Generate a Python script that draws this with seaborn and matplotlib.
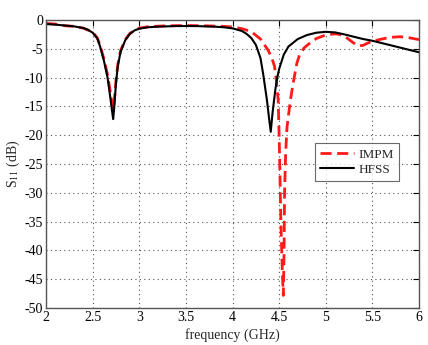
import matplotlib
matplotlib.use("Agg")
import matplotlib.pyplot as plt
import seaborn as sns
import pandas as pd

freq_hfss = [2.0, 2.1, 2.2, 2.3, 2.4, 2.45, 2.5, 2.55, 2.58, 2.62, 2.66, 2.69, 2.71, 2.72,
             2.73, 2.75, 2.77, 2.8, 2.85, 2.9, 2.95, 3.0, 3.1, 3.2, 3.4, 3.6, 3.8, 3.9,
             4.0, 4.1, 4.15, 4.2, 4.25, 4.3, 4.33, 4.37, 4.39, 4.41, 4.43, 4.46, 4.48, 4.5,
             4.55, 4.6, 4.7, 4.8, 4.9, 5.0, 5.1, 5.2, 5.3, 5.4, 5.5, 5.6, 5.7, 5.8, 5.9, 6.0]
s11_hfss = [-0.7, -0.8, -0.95, -1.1, -1.4, -1.7, -2.2, -3.2, -4.6, -7.0, -10.0, -13.5, -16.0, -17.2,
            -15.5, -11.0, -8.0, -5.5, -3.5, -2.4, -1.8, -1.5, -1.25, -1.15, -1.05, -1.05, -1.15, -1.25,
            -1.45, -1.9, -2.4, -3.1, -4.3, -6.6, -9.5, -14.0, -16.8, -19.4, -16.0, -12.0, -10.0, -8.5,
            -6.0, -4.6, -3.3, -2.6, -2.2, -2.05, -2.15, -2.5, -2.9, -3.3, -3.6, -4.0, -4.4, -4.8, -5.2, -5.6]

freq_impm = [2.0, 2.1, 2.2, 2.3, 2.4, 2.5, 2.55, 2.58, 2.62, 2.66, 2.69, 2.71, 2.72, 2.73,
             2.75, 2.77, 2.8, 2.85, 2.9, 3.0, 3.1, 3.3, 3.5, 3.7, 3.9, 4.0, 4.1, 4.2, 4.3,
             4.38, 4.42, 4.45, 4.47, 4.49, 4.5, 4.51, 4.52, 4.535, 4.545, 4.553, 4.558, 4.57,
             4.585, 4.62, 4.65, 4.69, 4.72, 4.77, 4.83, 4.9, 5.0, 5.1, 5.15, 5.2, 5.25, 5.3,
             5.35, 5.4, 5.45, 5.5, 5.6, 5.7, 5.8, 5.9, 6.0]
s11_impm = [-0.6, -0.7, -1.0, -1.1, -1.4, -2.1, -3.1, -4.4, -6.7, -9.5, -12.5, -14.8, -15.5, -14.5,
            -10.5, -7.7, -5.3, -3.4, -2.3, -1.4, -1.15, -1.0, -0.95, -1.0, -1.1, -1.2, -1.5, -2.0, -3.3,
            -5.2, -6.5, -8.0, -10.5, -14.0, -20.0, -28.0, -36.0, -44.0, -47.8, -40.0, -30.0, -23.0,
            -18.5, -14.0, -11.0, -7.5, -6.0, -4.8, -4.0, -3.2, -2.6, -2.4, -2.5, -2.8, -3.4, -4.0,
            -4.5, -4.4, -4.0, -3.7, -3.3, -3.0, -2.9, -3.1, -3.4]

x_ticks = [2, 2.5, 3, 3.5, 4, 4.5, 5, 5.5, 6]
x_labels = ["2", "2.5", "3", "3.5", "4", "4.5", "5", "5.5", "6"]
y_ticks = [0, -5, -10, -15, -20, -25, -30, -35, -40, -45, -50]

sns.set_style("white")
plt.rcParams['font.family'] = ['Liberation Serif', 'DejaVu Serif']
plt.rcParams['mathtext.fontset'] = 'stix'

df_i = pd.DataFrame({"f": freq_impm, "s": s11_impm})
df_h = pd.DataFrame({"f": freq_hfss, "s": s11_hfss})

fig = plt.figure(figsize=(4.28, 3.45), dpi=100)
ax = fig.add_axes([0.1075, 0.107, 0.8715, 0.835])

sns.lineplot(data=df_i, x="f", y="s", ax=ax, color="#ff1a1a", lw=2.0,
             linestyle=(0, (4, 2)), label="IMPM", sort=False)
sns.lineplot(data=df_h, x="f", y="s", ax=ax, color="black", lw=1.5,
             label="HFSS", sort=False)

ax.set_xlim(2, 6)
ax.set_ylim(-50, 0)
ax.set_xticks(x_ticks)
ax.set_xticklabels(x_labels)
ax.set_yticks(y_ticks)
ax.set_yticklabels([str(v) for v in y_ticks])
ax.grid(True, linestyle=(0, (1, 3)), color="#555555", lw=0.8)
ax.tick_params(direction="in", top=True, right=True, length=4, width=0.8,
               labelsize=10, colors="black", pad=2)
for s in ax.spines.values():
    s.set_color("#555555")
    s.set_linewidth(1.0)
ax.set_xlabel("frequency (GHz)", fontsize=10, labelpad=3)
ax.set_ylabel("S$_{11}$ (dB)", fontsize=10, labelpad=2)

leg = ax.legend(loc="upper left", bbox_to_anchor=(0.72, 0.573), fontsize=9.5,
                frameon=True, fancybox=False, edgecolor="#444444", handlelength=2.6,
                borderpad=0.4, labelspacing=0.25, handletextpad=0.3, borderaxespad=0)
leg.get_frame().set_linewidth(0.8)

fig.savefig("out.png", dpi=100)
